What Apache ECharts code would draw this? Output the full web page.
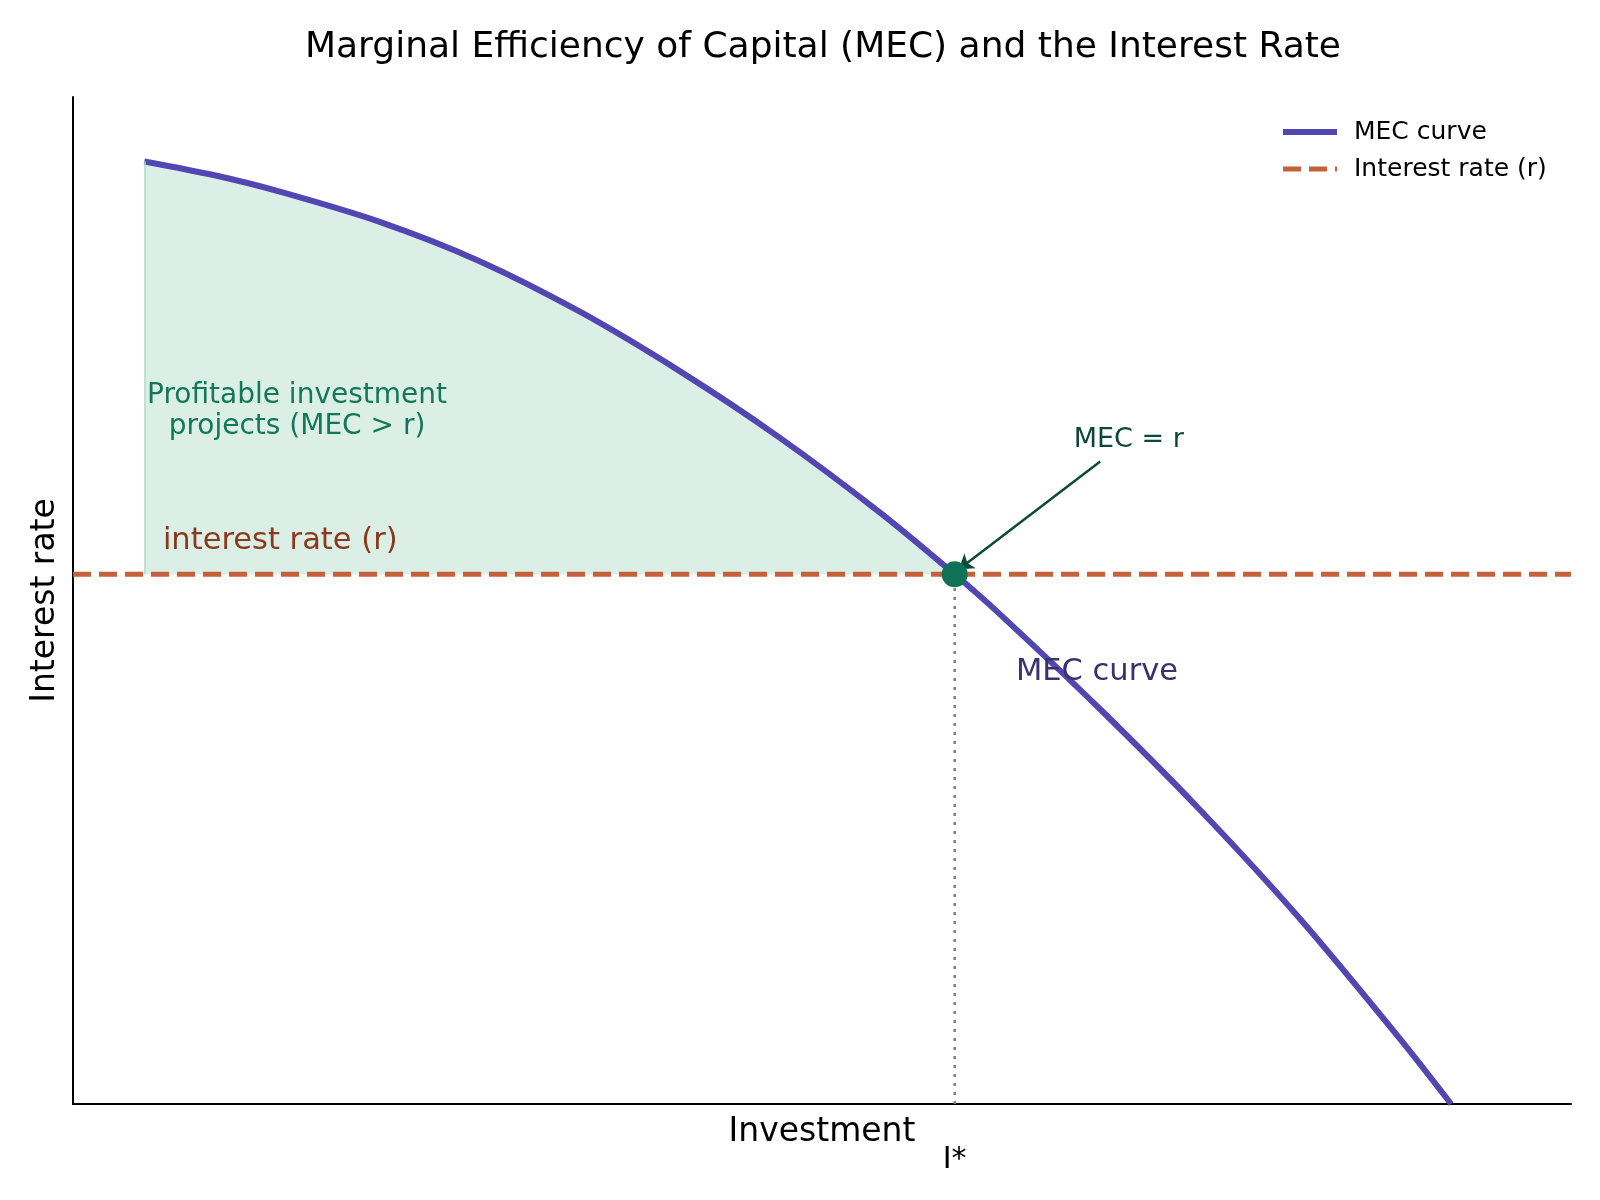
<!DOCTYPE html>
<html>
<head>
<meta charset="utf-8">
<script src="https://cdn.jsdelivr.net/npm/echarts@6/dist/echarts.min.js"></script>
<style>
  html, body { margin: 0; background: #fff; }
  #chart { width: 1600px; height: 1200px; }
</style>
</head>
<body>
<div id="chart"></div>
<script>
// values (axes carry no tick values, so units are arbitrary)
const investment = [0.5, 1.0, 1.45, 2.15, 2.85, 3.55, 4.25, 4.95, 5.65, 6.18, 6.5, 7.2, 7.9, 8.6, 9.3, 9.66];
const mec = [9.36, 9.22, 9.06, 8.76, 8.37, 7.87, 7.28, 6.62, 5.88, 5.26, 4.86, 3.92, 2.92, 1.84, 0.65, 0];
const interestRate = 5.26;
const iStar = 6.18;
const xRange = [0, 10.5];
const yRange = [0, 10];

const FONT = "DejaVu Sans";
const MEC_COLOR = "#5247b2";
const RATE_COLOR = "#c4613a";
const DOT_COLOR = "#0f7156";
const RATE_DASH = [18, 8];

const mecPoints = investment.map((x, i) => [x, mec[i]]);
const profitablePoints = mecPoints.filter((p) => p[0] <= iStar);

function note(x, y, text, color, size, align) {
  return {
    value: [x, y],
    label: {
      show: true,
      position: "inside",
      formatter: text,
      color,
      opacity: 1,
      fontSize: size,
      fontFamily: FONT,
      align: align || "center",
      verticalAlign: "middle",
      lineHeight: Math.round(size * 1.12),
    },
  };
}

const chart = echarts.init(document.getElementById("chart"));

chart.setOption({
  animation: false,
  backgroundColor: "#fff",
  textStyle: { fontFamily: FONT },
  title: {
    text: "Marginal Efficiency of Capital (MEC) and the Interest Rate",
    left: 818,
    textAlign: "center",
    top: 25,
    textStyle: { fontFamily: FONT, fontSize: 36, fontWeight: "normal", color: "#000" },
  },
  legend: {
    data: [
      { name: "MEC curve", lineStyle: { width: 6, type: "solid" } },
      { name: "Interest rate (r)", lineStyle: { width: 5, type: RATE_DASH } },
    ],
    orient: "vertical",
    left: 1275,
    top: 112,
    itemWidth: 54,
    itemHeight: 14,
    itemGap: 7,
    itemStyle: { opacity: 0 },
    textStyle: { fontFamily: FONT, fontSize: 25, color: "#000", lineHeight: 30, padding: [0, 0, 0, 12] },
  },
  grid: { left: 73, right: 29, top: 97, bottom: 96, containLabel: false, outerBoundsMode: "none" },
  xAxis: {
    type: "value",
    min: xRange[0],
    max: xRange[1],
    name: "Investment",
    nameLocation: "middle",
    nameGap: 12,
    nameMoveOverlap: false,
    nameTextStyle: { fontFamily: FONT, fontSize: 33, color: "#000" },
    axisLine: { show: true, lineStyle: { color: "#000", width: 2 } },
    axisTick: { show: false },
    splitLine: { show: false },
    axisLabel: {
      customValues: [iStar],
      formatter: () => "I*",
      margin: 41,
      fontFamily: FONT,
      fontSize: 30,
      color: "#000",
    },
  },
  yAxis: {
    type: "value",
    min: yRange[0],
    max: yRange[1],
    name: "Interest rate",
    nameLocation: "middle",
    nameRotate: 90,
    nameGap: 11,
    nameMoveOverlap: false,
    nameTextStyle: { fontFamily: FONT, fontSize: 33, color: "#000" },
    axisLine: { show: true, lineStyle: { color: "#000", width: 2 } },
    axisTick: { show: false },
    axisLabel: { show: false },
    splitLine: { show: false },
  },
  series: [
    {
      // shaded region where MEC > r
      type: "line",
      silent: true,
      z: 1,
      smooth: 0.3,
      symbol: "none",
      data: profitablePoints,
      lineStyle: { width: 0 },
      areaStyle: { color: "#dcefe7", opacity: 1, origin: interestRate },
      markLine: {
        silent: true,
        symbol: "none",
        label: { show: false },
        lineStyle: { color: "#b3dccb", width: 1.5, type: "solid" },
        data: [[{ coord: [investment[0], interestRate] }, { coord: [investment[0], mec[0]] }]],
      },
    },
    {
      type: "line",
      silent: true,
      z: 2,
      symbol: "none",
      data: [[iStar, yRange[0]], [iStar, interestRate]],
      lineStyle: { color: "#808080", width: 2.5, type: [3, 6] },
    },
    {
      name: "Interest rate (r)",
      type: "line",
      z: 3,
      symbol: "none",
      data: [[xRange[0], interestRate], [xRange[1], interestRate]],
      itemStyle: { color: RATE_COLOR },
      lineStyle: { color: RATE_COLOR, width: 5, type: RATE_DASH },
    },
    {
      name: "MEC curve",
      type: "line",
      z: 4,
      smooth: 0.3,
      symbol: "none",
      data: mecPoints,
      itemStyle: { color: MEC_COLOR },
      lineStyle: { color: MEC_COLOR, width: 6 },
    },
    {
      type: "scatter",
      z: 5,
      symbolSize: 26,
      itemStyle: { color: DOT_COLOR, opacity: 1 },
      data: [[iStar, interestRate]],
      markLine: {
        silent: true,
        symbol: ["none", "arrow"],
        symbolSize: 14,
        label: { show: false },
        lineStyle: { color: "#0c4a38", width: 2.5, type: "solid" },
        data: [[{ coord: [7.2, 6.38] }, { coord: [6.21, 5.31] }]],
      },
    },
    {
      type: "scatter",
      z: 6,
      silent: true,
      symbolSize: 0,
      itemStyle: { opacity: 1 },
      data: [
        note(1.57, 6.88, "Profitable investment\nprojects (MEC > r)", "#137759", 28),
        note(0.63, 5.59, "interest rate (r)", "#8a391c", 30.5, "left"),
        note(6.61, 4.29, "MEC curve", "#383270", 30.5, "left"),
        note(7.4, 6.59, "MEC = r", "#0c4737", 27),
      ],
    },
  ],
});
</script>
</body>
</html>
